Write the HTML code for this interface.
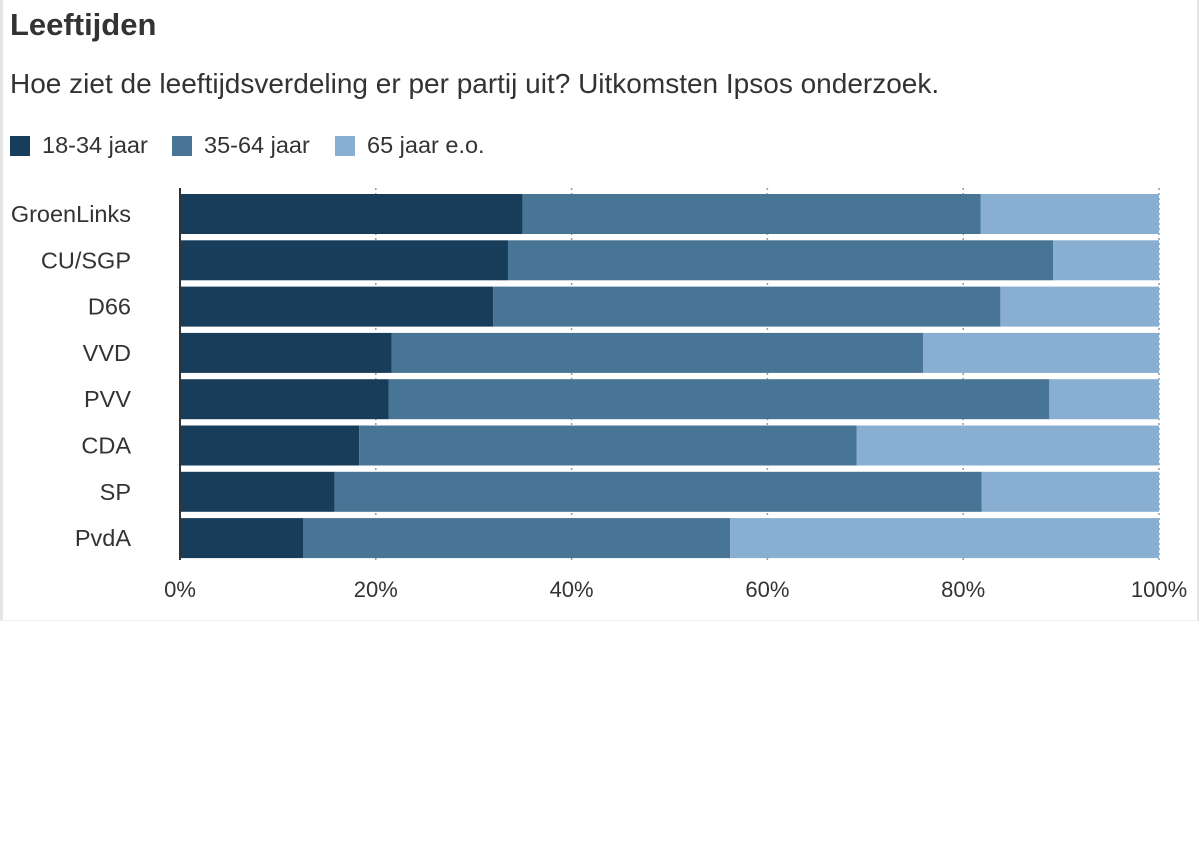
<!DOCTYPE html>
<html><head><meta charset="utf-8">
<style>
body{margin:0;width:1199px;height:845px;background:#fff;font-family:"Liberation Sans",sans-serif;color:#333;position:relative;overflow:hidden}
#frame{position:absolute;left:0;top:0;width:1194px;height:620px;border-left:3px solid #e4e4e4;border-right:3px solid #e4e4e4;border-bottom:1px solid #f0f0f0}
h1{position:absolute;left:10px;top:7px;margin:0;font-size:31px;font-weight:bold;color:#333}
.sub{position:absolute;left:10px;top:68px;font-size:28px;color:#333;white-space:nowrap}
.leg{position:absolute;top:132px;font-size:23.5px;display:flex;align-items:center;white-space:nowrap}
.sw{width:20px;height:20px;margin-right:12px;display:inline-block}
svg{position:absolute;left:0;top:0}
</style></head><body>
<div id="frame"></div>
<h1>Leeftijden</h1>
<div class="sub">Hoe ziet de leeftijdsverdeling er per partij uit? Uitkomsten Ipsos onderzoek.</div>
<div class="leg" style="left:10px"><span class="sw" style="background:#183d5a"></span>18-34 jaar</div>
<div class="leg" style="left:172px"><span class="sw" style="background:#487496"></span>35-64 jaar</div>
<div class="leg" style="left:335px"><span class="sw" style="background:#88aed2"></span>65 jaar e.o.</div>
<svg id="chart" width="1199" height="845"></svg>
<script>
const categories=["GroenLinks","CU/SGP","D66","VVD","PVV","CDA","SP","PvdA"];
const young=[35.0,33.5,32.0,21.6,21.3,18.3,15.8,12.6];
const middle=[46.8,55.7,51.8,54.3,67.5,50.8,66.1,43.6];
const old=[18.2,10.8,16.2,24.1,11.2,30.9,18.1,43.8];
const ticks=[0,20,40,60,80,100];
const tickLabels=["0%","20%","40%","60%","80%","100%"];
const colors=["#183d5a","#487496","#88aed2"];
const ns="http://www.w3.org/2000/svg";
const svg=document.getElementById("chart");
const x0=180,x1=1159,yTop=194,step=46.3,bh=40;
const xs=v=>x0+(x1-x0)*v/100;
const ys=i=>yTop+i*step;
function mk(t,a){const e=document.createElementNS(ns,t);for(const k in a)e.setAttribute(k,a[k]);svg.appendChild(e);return e;}
ticks.forEach((t,i)=>{
  if(t>0){const g=mk("line",{x1:xs(t),x2:xs(t),y1:188,y2:560,stroke:"#999","stroke-dasharray":"2,3","stroke-width":1.5});
  
  }
  const l=mk("text",{x:xs(t),y:597,"text-anchor":"middle","font-size":22,fill:"#333","font-family":"Liberation Sans, sans-serif"});
  l.textContent=tickLabels[i];
  
  
});
categories.forEach((c,i)=>{
  const vals=[young[i],middle[i],old[i]];let acc=0;
  vals.forEach((v,j)=>{
    const r=mk("rect",{x:xs(acc),y:ys(i),width:xs(acc+v)-xs(acc),height:bh,fill:colors[j]});
    
    
    acc+=v;
  });
  const t=mk("text",{x:131,y:ys(i)+bh/2+8,"text-anchor":"end","font-size":23.5,fill:"#333","font-family":"Liberation Sans, sans-serif"});
  t.textContent=c;
  
  
});
const ax=mk("line",{x1:x0,x2:x0,y1:188,y2:560,stroke:"#333","stroke-width":2});


</script>
</body></html>
